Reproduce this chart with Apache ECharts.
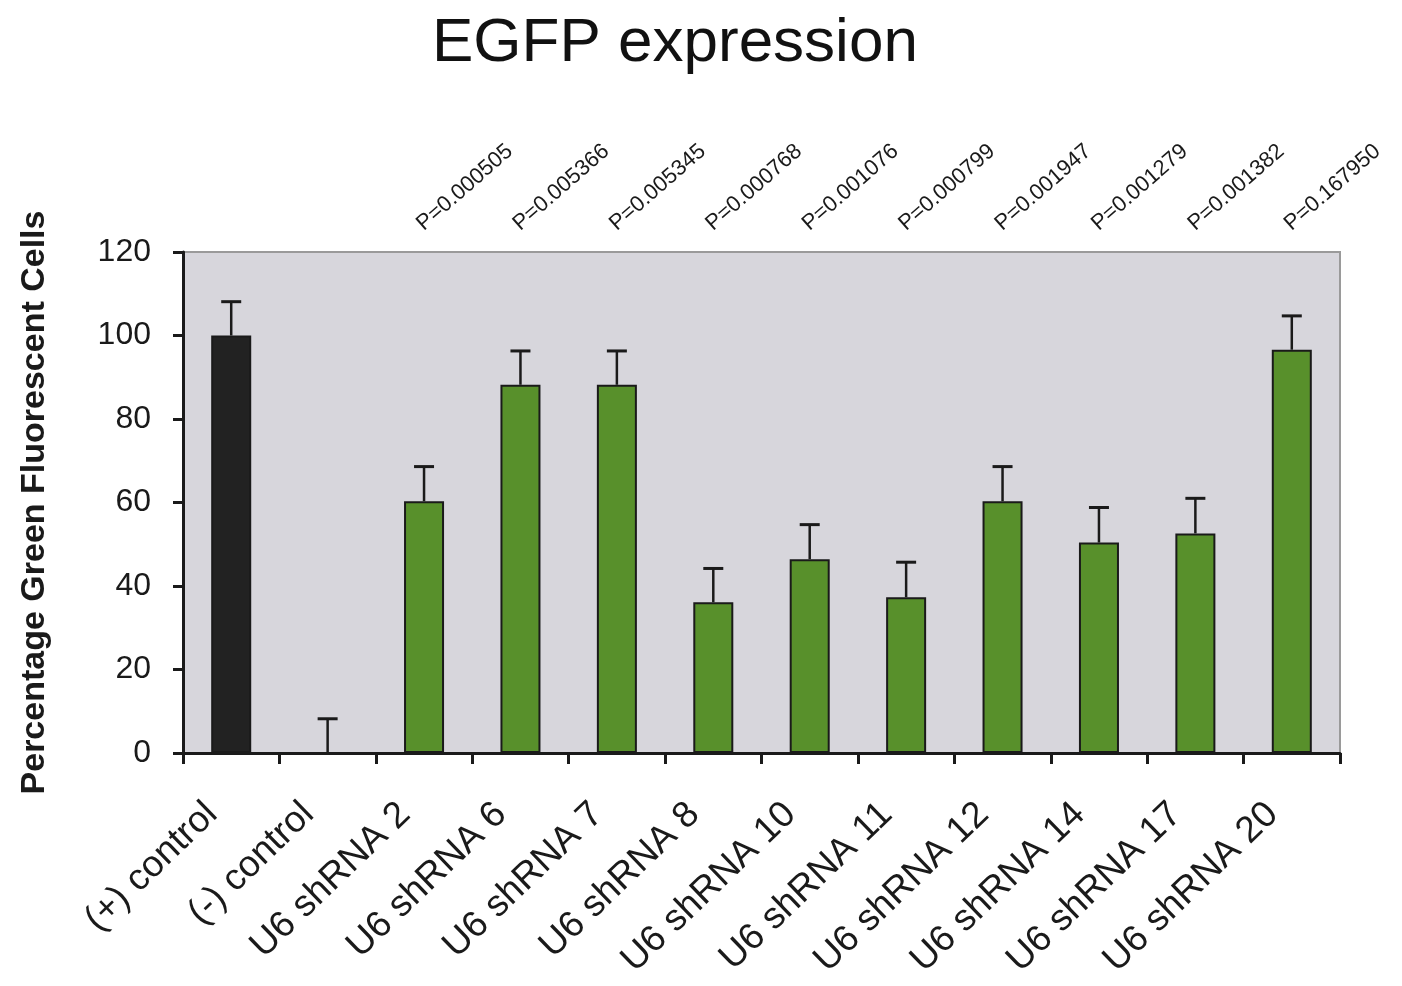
<!DOCTYPE html>
<html><head><meta charset="utf-8">
<script src="https://cdn.jsdelivr.net/npm/echarts@6/dist/echarts.min.js"></script>
<style>html,body{margin:0;padding:0;background:#fff}#c{width:1402px;height:986px}</style>
</head><body><div id="c"></div>
<script>
const categories = ['(+) control','(-) control','U6 shRNA 2','U6 shRNA 6','U6 shRNA 7','U6 shRNA 8','U6 shRNA 10','U6 shRNA 11','U6 shRNA 12','U6 shRNA 14','U6 shRNA 17','U6 shRNA 20'];
const values = [100, 0, 60.3, 88.2, 88.2, 36.1, 46.4, 37.3, 60.3, 50.4, 52.6, 96.6];
const errors = [8.1, 8.2, 8.3, 8.1, 8.1, 8.1, 8.3, 8.4, 8.3, 8.4, 8.4, 8.1];
const pValues = ['', '', 'P=0.000505','P=0.005366','P=0.005345','P=0.000768','P=0.001076','P=0.000799','P=0.001947','P=0.001279','P=0.001382','P=0.167950'];
const yTicks = [0, 20, 40, 60, 80, 100, 120];

const FONT = '"Liberation Sans", Arial, sans-serif';
const INK = '#1a1a1a';
const chart = echarts.init(document.getElementById('c'));
const barData = values.map((v, i) => ({
  value: v,
  itemStyle: { color: i === 0 ? '#222222' : '#58902b' }
}));
const yMax = yTicks[yTicks.length - 1];
chart.setOption({
  animation: false,
  title: {
    text: 'EGFP expression', left: 427, top: 8,
    textStyle: { fontFamily: FONT, fontSize: 62, fontWeight: 'normal', color: '#111' }
  },
  grid: {
    left: 183, top: 252, right: 62, bottom: 233,
    show: true, backgroundColor: '#d7d6dc', borderColor: '#9a9a9a', borderWidth: 2
  },
  xAxis: {
    type: 'category', data: categories,
    axisLine: { lineStyle: { color: INK, width: 3 } },
    axisTick: { show: true, length: 11, lineStyle: { color: INK, width: 3 } },
    axisLabel: { rotate: 44, margin: 37, padding: [0, 27, 0, 0], fontFamily: FONT, fontSize: 37, color: INK, interval: 0 }
  },
  yAxis: {
    type: 'value', min: 0, max: yMax, interval: 20,
    name: 'Percentage Green Fluorescent Cells', nameLocation: 'middle', nameGap: 131,
    nameTextStyle: { fontFamily: FONT, fontSize: 34, fontWeight: 'bold', color: INK },
    axisLine: { show: true, lineStyle: { color: INK, width: 3 } },
    axisTick: { show: true, length: 10, lineStyle: { color: INK, width: 3 } },
    splitLine: { show: false },
    axisLabel: { margin: 32, fontFamily: FONT, fontSize: 32, color: INK,
      formatter: v => yTicks.includes(v) ? String(v) : '' }
  },
  series: [{
    type: 'bar', data: barData, barWidth: '41.5%',
    itemStyle: { borderColor: INK, borderWidth: 2 }, z: 2
  }, {
    type: 'custom', z: 3,
    data: values.map((v, i) => [i, v, v + errors[i]]),
    renderItem: (params, api) => {
      const base = api.coord([api.value(0), api.value(1)]);
      const top = api.coord([api.value(0), api.value(2)]);
      const hw = 10;
      return {
        type: 'group', children: [
          { type: 'line', shape: { x1: base[0], y1: base[1], x2: top[0], y2: top[1] }, style: { stroke: INK, lineWidth: 2.5 } },
          { type: 'line', shape: { x1: top[0] - hw, y1: top[1], x2: top[0] + hw, y2: top[1] }, style: { stroke: INK, lineWidth: 3 } }
        ]
      };
    }
  }, {
    type: 'custom', z: 4, clip: false, silent: true,
    data: pValues.map((p, i) => [i, yMax]),
    renderItem: (params, api) => {
      const idx = params.dataIndex;
      const txt = pValues[idx];
      if (!txt) return null;
      const pt = api.coord([api.value(0), api.value(1)]);
      return {
        type: 'text', x: pt[0] + 3, y: pt[1] - 17, rotation: 41 * Math.PI / 180,
        style: { text: txt, x: 0, y: 0, align: 'left', verticalAlign: 'bottom',
          font: '22px ' + FONT, fill: INK }
      };
    }
  }]
});
</script></body></html>
